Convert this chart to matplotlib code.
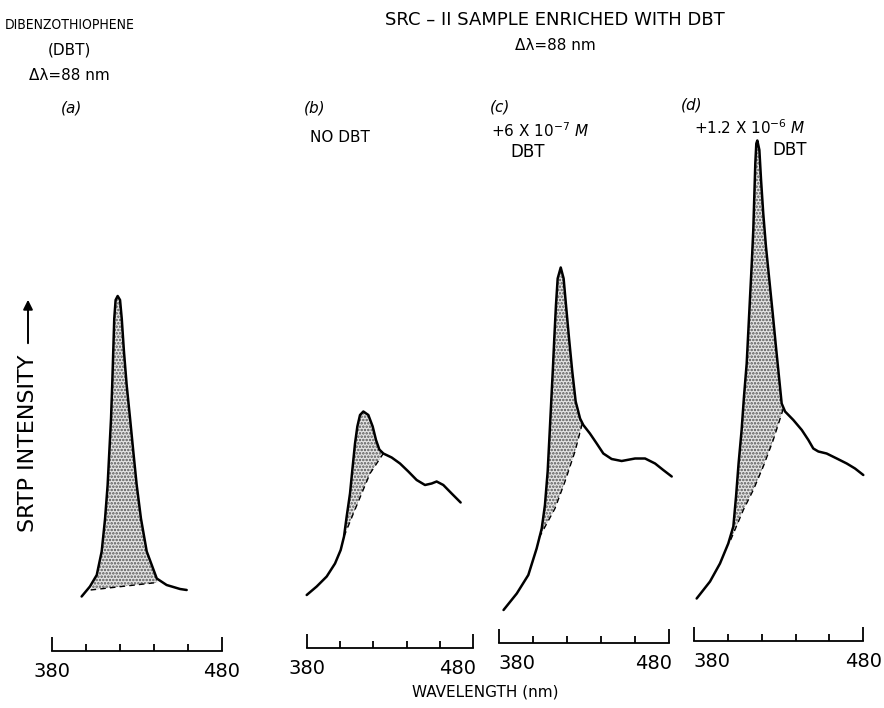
import numpy as np
import matplotlib
matplotlib.use("Agg")
import matplotlib.pyplot as plt
from matplotlib.patches import FancyArrowPatch
from matplotlib.transforms import ScaledTranslation

# spectra: wavelength (nm) and SRTP intensity (arb. units)
a_wl = [397.6, 402.5, 406.5, 409.4, 411.4, 412.9, 413.9, 414.9, 415.6, 416.2, 416.8, 417.6,
        418.8, 420.2, 421.2, 422.5, 424.1, 426.1, 428.0, 430.0, 432.5, 435.9, 441.8, 447.6,
        455.5, 459.4]
a_int = [10.7, 12.7, 15.0, 19.7, 26.3, 33.0, 39.7, 46.3, 53.0, 59.7, 66.3, 70.0,
         70.8, 70.0, 66.3, 59.7, 53.0, 46.3, 39.7, 33.0, 26.3, 19.7, 14.3, 13.0,
         12.2, 12.0]
a_base_wl = [402.9, 442.1]
a_base_int = [12.0, 13.5]

b_wl = [380.0, 386.0, 392.0, 397.0, 400.4, 402.4, 404.0, 406.0, 407.6, 409.0, 410.4, 412.0,
        414.0, 417.0, 419.6, 421.6, 423.6, 426.0, 431.0, 436.0, 441.0, 446.0, 451.0, 455.0,
        458.0, 462.0, 467.0, 472.4]
b_int = [11.0, 12.7, 14.7, 17.3, 20.0, 22.7, 26.7, 31.3, 36.7, 41.3, 44.7, 47.0,
         47.7, 47.0, 44.7, 42.0, 40.1, 39.3, 38.5, 37.3, 35.7, 34.0, 33.0, 33.3,
         33.7, 33.0, 31.3, 29.5]
b_base_wl = [402.4, 408.0, 413.0, 418.0, 426.0]
b_base_int = [22.7, 27.3, 31.3, 35.3, 39.3]

c_wl = [382.5, 390.3, 397.1, 402.0, 405.0, 406.9, 408.5, 409.5, 410.5, 411.5, 412.4, 413.4,
        414.4, 416.2, 417.9, 419.3, 421.1, 423.0, 425.0, 427.6, 429.5, 433.4, 437.4, 441.3,
        446.2, 452.1, 460.0, 465.9, 471.8, 476.6, 481.6]
c_int = [8.0, 11.3, 15.0, 20.3, 24.3, 29.0, 35.7, 42.3, 49.0, 55.7, 62.3, 69.0,
         74.3, 76.5, 74.3, 69.0, 62.3, 55.7, 49.7, 46.3, 45.0, 43.3, 41.3, 39.3,
         38.2, 37.8, 38.3, 38.3, 37.3, 36.0, 34.7]
c_base_wl = [403.5, 412.8, 418.7, 424.6, 428.9]
c_base_int = [22.5, 28.3, 33.7, 39.7, 45.3]

d_wl = [381.4, 389.3, 395.2, 400.1, 403.1, 404.7, 406.2, 408.0, 409.4, 411.0, 412.0, 413.0,
        414.0, 414.9, 415.5, 416.1, 416.7, 417.3, 418.5, 419.5, 420.8, 422.4, 424.4, 426.4,
        428.3, 430.3, 431.7, 433.7, 438.6, 443.6, 447.5, 450.4, 453.4, 458.3, 464.3, 470.2,
        475.1, 480.0]
d_int = [10.3, 13.7, 17.3, 21.3, 24.7, 30.7, 37.3, 44.0, 50.7, 57.3, 64.0, 70.7,
         77.3, 84.0, 90.7, 97.3, 101.3, 101.9, 100.0, 94.0, 87.3, 80.7, 74.0, 67.3,
         60.7, 54.0, 49.3, 47.7, 46.0, 44.0, 42.0, 40.3, 39.7, 39.3, 38.3, 37.3,
         36.3, 35.0]
d_base_wl = [401.5, 409.0, 414.9, 420.8, 426.7, 432.7]
d_base_int = [22.0, 28.0, 32.0, 36.7, 42.0, 48.3]

tick_major = [380, 480]
tick_minor = [400, 420, 440, 460]

panels = [
    (a_wl, a_int, a_base_wl, a_base_int),
    (b_wl, b_int, b_base_wl, b_base_int),
    (c_wl, c_int, c_base_wl, c_base_int),
    (d_wl, d_int, d_base_wl, d_base_int),
]

# layout in pixels of the 884x708 picture
W, H = 884, 708
x_left = [51.7, 306.7, 499.3, 694.3]
x_right = [221.7, 473.3, 669.0, 863.3]
y_base = [651, 648, 643, 641]
y_top = 120
# hand lettered tick labels sit a little inward on some panels (px)
lab_shift = [(0, 0), (0, -16), (18, -15), (18, 0)]

plt.rcParams['font.family'] = ['DejaVu Sans']
plt.rcParams['hatch.linewidth'] = 1.2
plt.rcParams['hatch.color'] = '#555555'

fig = plt.figure(figsize=(W / 100, H / 100), dpi=100)

def fx(px):
    return px / W

def fy(py):
    return 1 - py / H

for i, (wl, inten, bwl, bint) in enumerate(panels):
    ax = fig.add_axes([fx(x_left[i]), fy(y_base[i]),
                       fx(x_right[i] - x_left[i]), (y_base[i] - y_top) / H])
    ax.set_xlim(380, 480)
    ax.set_ylim((650 - y_base[i]) / 5, (650 - y_top) / 5)
    wl = np.array(wl)
    inten = np.array(inten)
    m = (wl >= bwl[0]) & (wl <= bwl[-1])
    px = np.concatenate([[bwl[0]], wl[m], bwl[::-1]])
    py = np.concatenate([[bint[0]], inten[m], bint[::-1]])
    ax.fill(px, py, facecolor='#e4e4e4', edgecolor='#555555', hatch='.....',
            linewidth=0)
    ax.plot(wl, inten, color='black', lw=1.8, clip_on=False,
            solid_capstyle='round', solid_joinstyle='round')
    ax.plot(bwl, bint, color='black', lw=1.0, dashes=(4, 3), clip_on=False)

    for s in ['left', 'right', 'top']:
        ax.spines[s].set_visible(False)
    ax.spines['bottom'].set_linewidth(1.3)
    ax.patch.set_alpha(0)
    ax.set_yticks([])
    ax.set_xticks(tick_major)
    ax.set_xticks(tick_minor, minor=True)
    ax.set_xticklabels([str(t) for t in tick_major])
    ax.tick_params(which='major', direction='in', length=10, width=1.3,
                   labelsize=14, pad=8)
    ax.tick_params(which='minor', direction='in', length=5, width=1.3)
    for lab, dx in zip(ax.get_xticklabels(), lab_shift[i]):
        lab.set_transform(lab.get_transform() +
                          ScaledTranslation(dx / 100, 0, fig.dpi_scale_trans))

# texts
tk = dict(ha='center', va='center', fontsize=11)
fig.text(fx(70), fy(25), "DIBENZOTHIOPHENE", ha='center', va='center',
         fontsize=10, fontstretch='condensed')
fig.text(fx(69), fy(50), "(DBT)", **tk)
fig.text(fx(69), fy(75), "Δλ=88 nm", **tk)
fig.text(fx(555), fy(20), "SRC – II SAMPLE ENRICHED WITH DBT",
         ha='center', va='center', fontsize=13)
fig.text(fx(555), fy(45), "Δλ=88 nm", **tk)

fig.text(fx(72), fy(108), "(a)", style='italic', **tk)
fig.text(fx(315), fy(108), "(b)", style='italic', **tk)
fig.text(fx(500), fy(107), "(c)", style='italic', **tk)
fig.text(fx(692), fy(105), "(d)", style='italic', **tk)

fig.text(fx(340), fy(137), "NO DBT", **tk)
fig.text(fx(540), fy(131), r"+6 X 10$^{-7}$ $M$", **tk)
fig.text(fx(528), fy(152), "DBT", ha='center', va='center', fontsize=12)
fig.text(fx(750), fy(128), r"+1.2 X 10$^{-6}$ $M$", **tk)
fig.text(fx(790), fy(150), "DBT", ha='center', va='center', fontsize=12)

fig.text(fx(28), fy(443), "SRTP INTENSITY", rotation=90,
         ha='center', va='center', fontsize=16)
fig.add_artist(FancyArrowPatch(
    (fx(28), fy(346)), (fx(28), fy(297)), transform=fig.transFigure,
    arrowstyle='-|>', mutation_scale=14, lw=1.4, color='black'))

fig.text(fx(485), fy(692), "WAVELENGTH (nm)", **tk)

fig.savefig("out.png", dpi=100)
